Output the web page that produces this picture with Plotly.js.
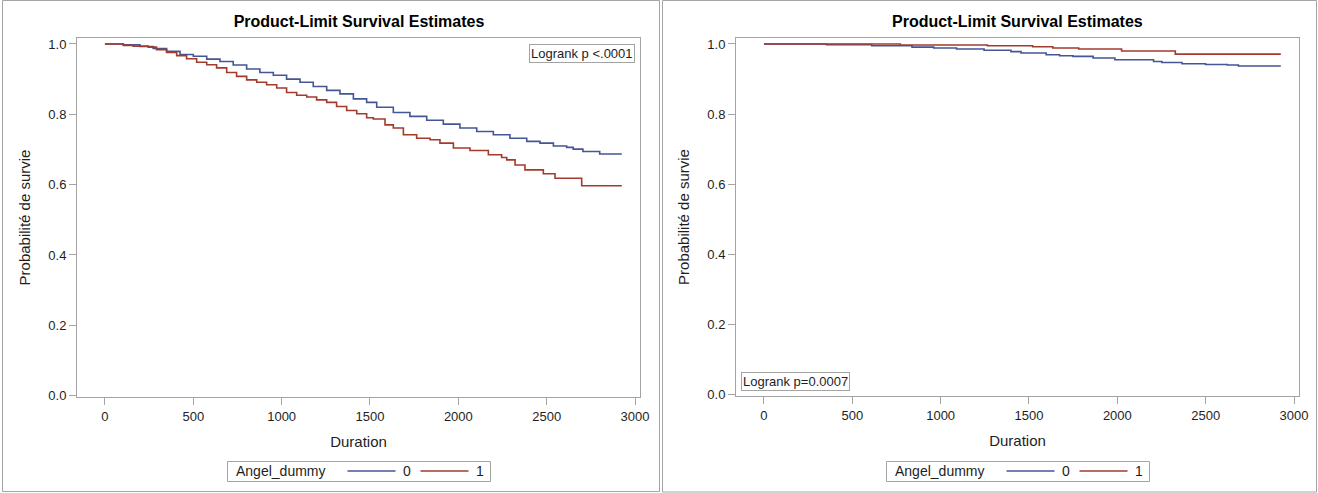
<!DOCTYPE html>
<html>
<head>
<meta charset="utf-8">
<script src="https://cdn.plot.ly/plotly-3.0.1.min.js"></script>
<style>html,body{margin:0;padding:0;background:#fff;}#chart{width:1318px;height:493px;}</style>
</head>
<body>
<div id="chart"></div>
<script>
// ---- Data ----
var groupLabels = ["0", "1"];
var legendTitle = "Angel_dummy";
var chartTitle = "Product-Limit Survival Estimates";
var xTitle = "Duration";
var yTitle = "Probabilité de survie";
var xTickVals = [0, 500, 1000, 1500, 2000, 2500, 3000];
var yTickVals = [0.0, 0.2, 0.4, 0.6, 0.8, 1.0];
var logrankLeft = "Logrank p <.0001";
var logrankRight = "Logrank p=0.0007";

// Left panel, group 0 (blue)
var leftT0 = [0, 104, 198, 273, 349, 425, 500, 576, 651, 726, 802, 877, 953, 1028, 1104, 1179, 1255, 1330, 1406, 1481, 1538, 1632, 1726, 1821, 1915, 2009, 2104, 2198, 2292, 2387, 2462, 2538, 2613, 2650, 2705, 2800, 2925];
var leftS0 = [1.0, 0.998, 0.993, 0.987, 0.979, 0.970, 0.965, 0.957, 0.950, 0.940, 0.929, 0.919, 0.911, 0.900, 0.891, 0.879, 0.868, 0.858, 0.844, 0.834, 0.820, 0.805, 0.794, 0.783, 0.772, 0.761, 0.751, 0.742, 0.732, 0.723, 0.718, 0.710, 0.706, 0.701, 0.694, 0.687, 0.687];
// Left panel, group 1 (red)
var leftT1 = [0, 104, 160, 245, 292, 349, 406, 462, 519, 576, 632, 689, 745, 802, 859, 915, 972, 1028, 1085, 1142, 1198, 1255, 1311, 1368, 1425, 1481, 1519, 1585, 1632, 1689, 1764, 1840, 1896, 1972, 2066, 2170, 2245, 2274, 2321, 2377, 2481, 2547, 2698, 2925];
var leftS1 = [1.0, 0.996, 0.994, 0.991, 0.984, 0.976, 0.967, 0.958, 0.948, 0.941, 0.932, 0.919, 0.908, 0.898, 0.891, 0.884, 0.875, 0.862, 0.854, 0.849, 0.841, 0.834, 0.822, 0.811, 0.8015, 0.790, 0.7865, 0.770, 0.761, 0.742, 0.732, 0.7275, 0.718, 0.704, 0.697, 0.685, 0.677, 0.6705, 0.656, 0.642, 0.631, 0.618, 0.597, 0.597];
// Right panel, group 0 (blue)
var rightT0 = [0, 354, 610, 838, 961, 1090, 1246, 1398, 1455, 1597, 1673, 1749, 1863, 1986, 2205, 2252, 2366, 2499, 2622, 2685, 2925];
var rightS0 = [1.0, 0.998, 0.995, 0.991, 0.9885, 0.9857, 0.982, 0.978, 0.974, 0.969, 0.9665, 0.9645, 0.960, 0.955, 0.950, 0.947, 0.9435, 0.9415, 0.940, 0.937, 0.937];
// Right panel, group 1 (red)
var rightT1 = [0, 772, 1265, 1521, 1635, 1781, 2024, 2328, 2925];
var rightS1 = [1.0, 0.997, 0.995, 0.992, 0.9885, 0.9857, 0.980, 0.971, 0.971];

// ---- Styling ----
var W = 1318, H = 493;
var FONT = "Liberation Sans, Arial, sans-serif";
var BLUE = "#445694", RED = "#A23A2E";
var COLORS = [BLUE, RED];
var GRAY = "#a4a4a4";
var TXT = "#1e1e1e";
function px(x){ return x / W; }
function py(y){ return 1 - y / H; }

function trace(t, s, color, name, xa, ya) {
  return {
    type: "scatter", mode: "lines", x: t, y: s, name: name,
    line: {color: color, width: 1.6, shape: "hv"},
    xaxis: xa, yaxis: ya, showlegend: false,
    hoverinfo: "x+y+name"
  };
}

var data = [
  trace(leftT0, leftS0, BLUE, groupLabels[0], "x", "y"),
  trace(leftT1, leftS1, RED, groupLabels[1], "x", "y"),
  trace(rightT0, rightS0, BLUE, groupLabels[0], "x2", "y2"),
  trace(rightT1, rightS1, RED, groupLabels[1], "x2", "y2")
];

function xaxis(domain, anchor) {
  return {
    domain: domain, anchor: anchor, range: [-158, 3028],
    tickmode: "array", tickvals: xTickVals, ticktext: xTickVals.map(String),
    ticks: "outside", ticklen: 7, tickwidth: 1, tickcolor: GRAY,
    showline: true, linecolor: GRAY, linewidth: 1, mirror: true,
    showgrid: false, zeroline: false,
    tickfont: {family: FONT, size: 13, color: TXT},
    title: {text: xTitle, font: {family: FONT, size: 15, color: TXT}, standoff: 13}
  };
}
function yaxis(domain, anchor, range) {
  return {
    domain: domain, anchor: anchor, range: range,
    tickmode: "array", tickvals: yTickVals, ticktext: yTickVals.map(function(v){return v.toFixed(1);}),
    ticks: "outside", ticklen: 7, tickwidth: 1, tickcolor: GRAY,
    showline: true, linecolor: GRAY, linewidth: 1, mirror: true,
    showgrid: false, zeroline: false,
    tickfont: {family: FONT, size: 13, color: TXT},
    title: {text: yTitle, font: {family: FONT, size: 15, color: TXT}, standoff: 14}
  };
}

var annotations = [
  {xref: "paper", yref: "paper", x: px(1017.5), y: py(21), xanchor: "center", yanchor: "middle",
   text: chartTitle, showarrow: false, font: {family: FONT, size: 16, color: "#000", weight: "bold"}},
  {xref: "paper", yref: "paper", x: px(635), y: py(44), xanchor: "right", yanchor: "top",
   text: logrankLeft, showarrow: false, font: {family: FONT, size: 13, color: TXT},
   bordercolor: GRAY, borderwidth: 1, borderpad: 1, bgcolor: "#ffffff"},
  {xref: "paper", yref: "paper", x: px(741), y: py(391), xanchor: "left", yanchor: "bottom",
   text: logrankRight, showarrow: false, font: {family: FONT, size: 13, color: TXT},
   bordercolor: GRAY, borderwidth: 1, borderpad: 1, bgcolor: "#ffffff"}
];
var shapes = [
  {type: "rect", xref: "paper", yref: "paper", x0: px(2.5), x1: px(659.5), y0: py(491.5), y1: py(0.5),
   line: {color: GRAY, width: 1}, layer: "below"},
  {type: "rect", xref: "paper", yref: "paper", x0: px(662.5), x1: px(1316.5), y0: py(492), y1: py(0.5),
   line: {color: GRAY, width: 1}, layer: "below"}
];

// Legend box per panel (built from legendTitle / groupLabels / COLORS)
function addLegend(left) {
  var top = 461.5, bot = 481.5, mid = 471;
  shapes.push({type: "rect", xref: "paper", yref: "paper", x0: px(left), x1: px(left + 263),
    y0: py(bot), y1: py(top), line: {color: GRAY, width: 1}, fillcolor: "#ffffff"});
  annotations.push({xref: "paper", yref: "paper", x: px(left + 6), y: py(mid), xanchor: "left", yanchor: "middle",
    text: legendTitle, showarrow: false, font: {family: FONT, size: 14, color: TXT}});
  var lineStarts = [120, 193], labelCenters = [179.5, 252.5];
  for (var i = 0; i < groupLabels.length; i++) {
    shapes.push({type: "line", xref: "paper", yref: "paper",
      x0: px(left + lineStarts[i]), x1: px(left + lineStarts[i] + 48), y0: py(mid), y1: py(mid),
      line: {color: COLORS[i], width: 1.4}});
    annotations.push({xref: "paper", yref: "paper", x: px(left + labelCenters[i]), y: py(mid),
      xanchor: "center", yanchor: "middle", text: groupLabels[i], showarrow: false,
      font: {family: FONT, size: 14, color: TXT}});
  }
}
addLegend(227.5);
addLegend(886.5);

var layout = {
  width: W, height: H,
  margin: {l: 0, r: 0, t: 0, b: 0, pad: 0},
  paper_bgcolor: "#ffffff", plot_bgcolor: "#ffffff",
  font: {family: FONT, color: TXT},
  showlegend: false,
  title: {
    text: chartTitle, x: px(359), xanchor: "center", y: py(21), yanchor: "middle",
    font: {family: FONT, size: 16, color: "#000", weight: "bold"}
  },
  xaxis: xaxis([px(77), px(640)], "y"),
  yaxis: yaxis([py(397), py(38)], "x", [-0.004, 1.017]),
  xaxis2: xaxis([px(736), px(1299)], "y2"),
  yaxis2: yaxis([py(396), py(38)], "x2", [-0.005, 1.017]),
  annotations: annotations,
  shapes: shapes
};

Plotly.newPlot("chart", data, layout, {displayModeBar: false, responsive: false});
</script>
</body>
</html>
